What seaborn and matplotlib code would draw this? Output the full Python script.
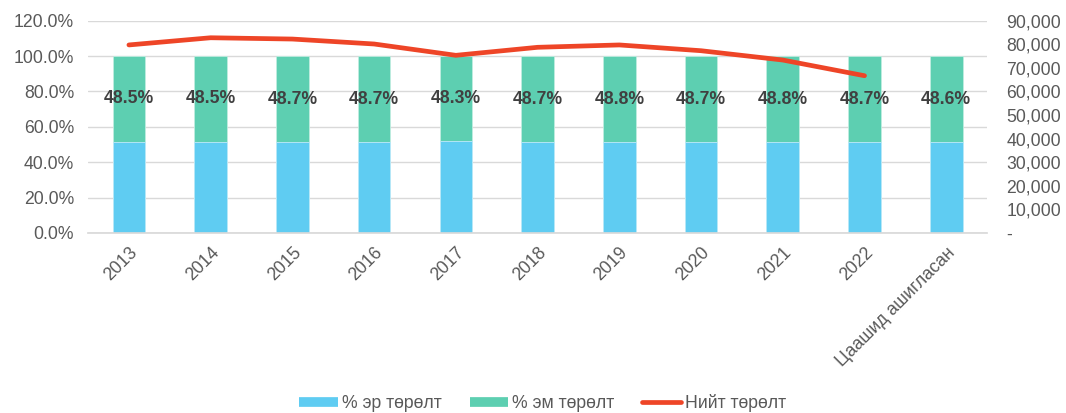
import matplotlib
matplotlib.use("Agg")
import matplotlib.pyplot as plt
import numpy as np
import pandas as pd
import seaborn as sns
from matplotlib.lines import Line2D
from matplotlib.ticker import FuncFormatter


ANGILAL = ["2013", "2014", "2015", "2016", "2017", "2018", "2019",
           "2020", "2021", "2022", "Цаашид ашигласан"]
EM_HUVI = [48.5, 48.5, 48.7, 48.7, 48.3, 48.7, 48.8, 48.7, 48.8, 48.7, 48.6]
ER_HUVI = [100 - v for v in EM_HUVI]
NIIT_ON = ANGILAL[:10]
NIIT_TORELT = [79700, 82750, 82200, 80100, 75300, 78700, 79700, 77250, 73300, 66650]

ONGO_ER = "#5FCCF2"
ONGO_EM = "#5DCFB1"
ONGO_NIIT = "#EE4527"
ONGO_TEXT = "#595959"
ONGO_GRID = "#D9D9D9"

sns.set_theme(style="white")
plt.rcParams["font.family"] = ["Liberation Sans", "DejaVu Sans"]
FS = 12.7

df = pd.DataFrame({"angilal": ANGILAL, "er": ER_HUVI, "em": EM_HUVI})
df["niit"] = df["er"] + df["em"]

fig = plt.figure(figsize=(10.66, 4.13), dpi=100)
ax = fig.add_axes([0.0826, 0.436, 0.8434, 0.514])

# ногоон баганыг бүтэн өндрөөр, дээр нь цэнхрийг давхарлана
sns.barplot(data=df, x="angilal", y="niit", color=ONGO_EM, width=0.4,
            saturation=1, ax=ax, zorder=2, edgecolor="#BFEDE0", linewidth=0.6)
sns.barplot(data=df, x="angilal", y="er", color=ONGO_ER, width=0.4,
            saturation=1, ax=ax, zorder=2, edgecolor="#BFEAFA", linewidth=0.6)

for i, row in df.iterrows():
    ax.text(i, row["er"] + row["em"] / 2, f"{row['em']:.1f}%", ha="center",
            va="center", fontsize=FS, fontweight="bold", color="#404040", zorder=5)

ax.set_ylim(0, 120)
ax.set_yticks(np.arange(0, 121, 20))
ax.yaxis.set_major_formatter(FuncFormatter(lambda v, p: f"{v:.1f}%"))
ax.set_xlim(-0.5, len(ANGILAL) - 0.5)
ax.grid(axis="y", color=ONGO_GRID, linewidth=1, zorder=0)
ax.set_axisbelow(True)
ax.set_xlabel("")
ax.set_ylabel("")
ax.tick_params(axis="y", length=0, labelsize=FS, labelcolor=ONGO_TEXT, pad=10)
ax.tick_params(axis="x", length=0, labelsize=FS, labelcolor=ONGO_TEXT, pad=8)
plt.setp(ax.get_xticklabels(), rotation=45, ha="right", rotation_mode="anchor")
for s in ax.spines.values():
    s.set_visible(False)
ax.spines["bottom"].set_visible(True)
ax.spines["bottom"].set_color(ONGO_GRID)

ax2 = ax.twinx()
sns.lineplot(x=np.arange(len(NIIT_ON)), y=NIIT_TORELT, color=ONGO_NIIT,
             linewidth=3.4, ax=ax2, zorder=4, solid_capstyle="round")
ax2.set_ylim(0, 90000)
ax2.set_yticks(np.arange(0, 90001, 10000))
ax2.yaxis.set_major_formatter(FuncFormatter(lambda v, p: "-" if v == 0 else f"{v:,.0f}"))
ax2.tick_params(axis="y", length=0, labelsize=FS, labelcolor=ONGO_TEXT, pad=14)
for s in ax2.spines.values():
    s.set_visible(False)
for lbl in ax2.get_yticklabels():
    lbl.set_ha("left")

handles = [
    Line2D([], [], color=ONGO_ER, linewidth=7, solid_capstyle="butt"),
    Line2D([], [], color=ONGO_EM, linewidth=7, solid_capstyle="butt"),
    Line2D([], [], color=ONGO_NIIT, linewidth=3.4, solid_capstyle="round"),
]
fig.legend(handles, ["% эр төрөлт", "% эм төрөлт", "Нийт төрөлт"],
           loc="center", bbox_to_anchor=(0.509, 0.024), ncol=3, frameon=False,
           fontsize=FS, labelcolor=ONGO_TEXT, handlelength=2.2,
           handletextpad=0.2, columnspacing=1.6)

fig.savefig("out.png", dpi=100)
